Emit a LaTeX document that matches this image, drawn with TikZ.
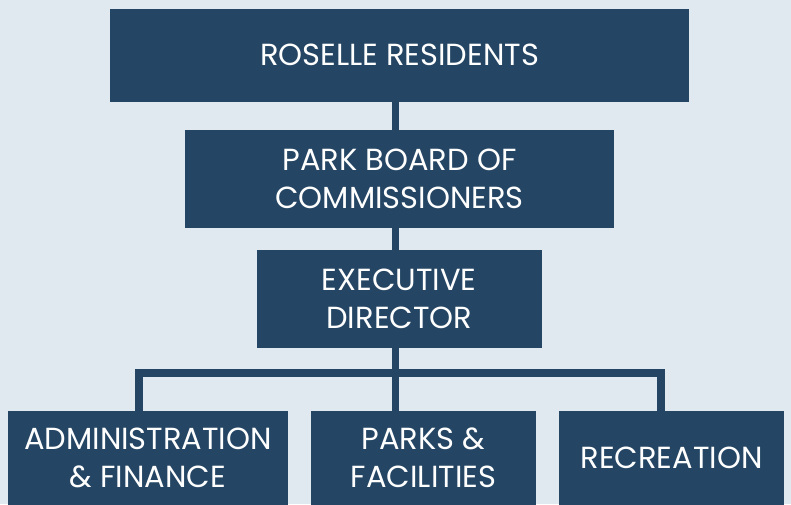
\documentclass[tikz,border=0pt]{standalone}
\usepackage{fontspec}
\setmainfont{Poppins}
\definecolor{boxblue}{HTML}{244563}
\definecolor{bgblue}{HTML}{E0E9F0}
\begin{document}
\begin{tikzpicture}[x=1pt,y=-1pt,
  orgbox/.style={fill=boxblue,draw=none,text=white,inner sep=0pt,align=center,
    font=\fontsize{30.5}{38}\selectfont},
  conn/.style={draw=boxblue,line width=7.8pt,line join=miter}]
\fill[bgblue] (0,0) rectangle (791,504);
\useasboundingbox (0,0) rectangle (791,504);
\node[orgbox,minimum width=579pt,minimum height=92.5pt] (top) at (399.5,55.3) {ROSELLE RESIDENTS};
\node[orgbox,minimum width=429pt,minimum height=97.5pt] (pbc) at (399.5,179) {PARK BOARD OF\\COMMISSIONERS};
\node[orgbox,minimum width=285.5pt,minimum height=97.5pt] (exec) at (399.3,299) {EXECUTIVE\\DIRECTOR};
\node[orgbox,minimum width=280pt,minimum height=94pt] (admin) at (148,458) {ADMINISTRATION\\\&{} FINANCE};
\node[orgbox,minimum width=225pt,minimum height=94pt] (parks) at (423.5,458) {PARKS \&\\FACILITIES};
\node[orgbox,minimum width=225pt,minimum height=94pt] (rec) at (671.5,458) {RECREATION};
\coordinate (spine) at (395.5,0);
\coordinate (bar) at (0,373);
\coordinate (lx) at (139,0);
\coordinate (rx) at (661,0);
\draw[conn] (spine |- top.south) -- (spine |- pbc.north);
\draw[conn] (spine |- pbc.south) -- (spine |- exec.north);
\draw[conn] (spine |- exec.south) -- (spine |- parks.north);
\draw[conn] (lx |- admin.north) -- (lx |- bar) -- (rx |- bar) -- (rx |- rec.north);
\end{tikzpicture}
\end{document}
